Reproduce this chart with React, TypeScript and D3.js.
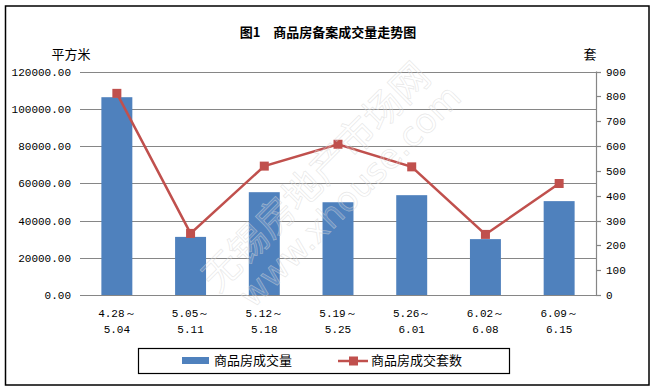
import React, { useEffect, useRef } from "react";
import * as d3 from "d3";

const categories = ["4.28～|5.04", "5.05～|5.11", "5.12～|5.18", "5.19～|5.25", "5.26～|6.01", "6.02～|6.08", "6.09～|6.15"];
const areaValues = [106200, 31200, 55200, 49800, 53600, 30000, 50400];
const unitValues = [812, 248, 519, 607, 516, 244, 449];
const leftTicks = [0, 20000, 40000, 60000, 80000, 100000, 120000];
const rightTicks = [0, 100, 200, 300, 400, 500, 600, 700, 800, 900];

const W = 655;
const H = 390;
const BLUE = "#4F81BD";
const RED = "#C0504D";
const GRID = "#868686";
const CJK = "'Noto Sans CJK SC', sans-serif";
const MONO = "'Liberation Mono', 'DejaVu Sans Mono', monospace";

export default function App() {
    const svgRef = useRef(null);

    useEffect(() => {
        const margin = { top: 71.5, right: 59, bottom: 95, left: 80 };
        const svg = d3.select(svgRef.current);
        svg.selectAll("*").remove();

        const x = d3.scaleBand()
            .domain(categories)
            .range([margin.left, W - margin.right])
            .paddingInner(0.58)
            .paddingOuter(0.29);

        const yLeft = d3.scaleLinear()
            .domain([0, 120000])
            .range([H - margin.bottom, margin.top]);

        const yRight = d3.scaleLinear()
            .domain([0, 900])
            .range([H - margin.bottom, margin.top]);

        // outer frame
        svg.append("rect")
            .attr("x", 5.5).attr("y", 6)
            .attr("width", 643.5).attr("height", 379)
            .attr("fill", "white")
            .attr("stroke", "black")
            .attr("stroke-width", 1.5);

        // title
        svg.append("text")
            .attr("x", 328).attr("y", 37)
            .attr("text-anchor", "middle")
            .style("font-family", CJK)
            .style("font-size", "13px")
            .style("font-weight", "bold")
            .text("图1　商品房备案成交量走势图");

        svg.append("text")
            .attr("x", 71).attr("y", 59)
            .attr("text-anchor", "middle")
            .style("font-family", CJK)
            .style("font-size", "13px")
            .text("平方米");

        svg.append("text")
            .attr("x", 590).attr("y", 59)
            .attr("text-anchor", "middle")
            .style("font-family", CJK)
            .style("font-size", "13px")
            .text("套");

        // gridlines
        svg.append("g")
            .selectAll("line")
            .data(leftTicks)
            .join("line")
            .attr("x1", margin.left)
            .attr("x2", W - margin.right)
            .attr("y1", d => Math.round(yLeft(d)) + 0.5)
            .attr("y2", d => Math.round(yLeft(d)) + 0.5)
            .attr("stroke", GRID)
            .attr("stroke-width", 1.2);

        // left labels
        svg.append("g")
            .selectAll("text")
            .data(leftTicks)
            .join("text")
            .attr("x", 71)
            .attr("y", d => yLeft(d) + 4)
            .attr("text-anchor", "end")
            .style("font-family", MONO)
            .style("font-size", "11px")
            .text(d => d3.format(".2f")(d));

        // right axis
        const rx = W - margin.right;
        svg.append("line")
            .attr("x1", rx + 0.5).attr("x2", rx + 0.5)
            .attr("y1", yRight(900)).attr("y2", yRight(0))
            .attr("stroke", GRID)
            .attr("stroke-width", 1.2);

        svg.append("g")
            .selectAll("line")
            .data(rightTicks)
            .join("line")
            .attr("x1", rx)
            .attr("x2", rx + 5)
            .attr("y1", d => Math.round(yRight(d)) + 0.5)
            .attr("y2", d => Math.round(yRight(d)) + 0.5)
            .attr("stroke", GRID)
            .attr("stroke-width", 1.2);

        svg.append("g")
            .selectAll("text")
            .data(rightTicks)
            .join("text")
            .attr("x", rx + 10)
            .attr("y", d => yRight(d) + 4)
            .style("font-family", MONO)
            .style("font-size", "11px")
            .text(d => d);

        // bars
        svg.append("g")
            .selectAll("rect")
            .data(areaValues)
            .join("rect")
            .attr("x", (d, i) => x(categories[i]))
            .attr("y", d => yLeft(d))
            .attr("width", x.bandwidth())
            .attr("height", d => yLeft(0) - yLeft(d))
            .attr("fill", BLUE);

        // category labels
        const cx = (i) => x(categories[i]) + x.bandwidth() / 2;
        const labels = svg.append("g")
            .selectAll("text")
            .data(categories)
            .join("text")
            .attr("text-anchor", "middle")
            .style("font-family", MONO)
            .style("font-size", "11px");
        labels.append("tspan")
            .attr("x", (d, i) => cx(i))
            .attr("y", 317)
            .text(d => d.split("|")[0]);
        labels.append("tspan")
            .attr("x", (d, i) => cx(i))
            .attr("y", 333)
            .text(d => d.split("|")[1]);

        // line series
        const line = d3.line()
            .x((d, i) => cx(i))
            .y(d => yRight(d));

        svg.append("path")
            .datum(unitValues)
            .attr("d", line)
            .attr("fill", "none")
            .attr("stroke", RED)
            .attr("stroke-width", 2.5);

        svg.append("g")
            .selectAll("rect")
            .data(unitValues)
            .join("rect")
            .attr("x", (d, i) => cx(i) - 4.5)
            .attr("y", d => yRight(d) - 4.5)
            .attr("width", 9)
            .attr("height", 9)
            .attr("fill", RED);

        // watermark
        const wm = svg.append("g")
            .attr("transform", "translate(222,298) rotate(-45)")
            .style("pointer-events", "none");
        wm.append("text")
            .attr("x", 0).attr("y", -6)
            .style("font-family", CJK)
            .style("font-size", "38px")
            .attr("fill", "white")
            .attr("fill-opacity", 0.15)
            .attr("stroke", "#d4d4d4")
            .attr("stroke-opacity", 0.55)
            .attr("stroke-width", 0.7)
            .text("无锡房地产市场网");
        wm.append("text")
            .attr("x", 14).attr("y", 30)
            .style("font-family", "'DejaVu Sans', sans-serif")
            .style("font-size", "34px")
            .attr("fill", "white")
            .attr("fill-opacity", 0.15)
            .attr("stroke", "#d4d4d4")
            .attr("stroke-opacity", 0.55)
            .attr("stroke-width", 0.7)
            .text("www.xhouse.com");

        // legend
        svg.append("rect")
            .attr("x", 138.5).attr("y", 348.5)
            .attr("width", 371).attr("height", 25)
            .attr("fill", "white")
            .attr("stroke", "black")
            .attr("stroke-width", 1.2);

        svg.append("rect")
            .attr("x", 182).attr("y", 357)
            .attr("width", 27).attr("height", 7)
            .attr("fill", BLUE);
        svg.append("text")
            .attr("x", 214).attr("y", 365)
            .style("font-family", CJK)
            .style("font-size", "13px")
            .text("商品房成交量");

        svg.append("line")
            .attr("x1", 338).attr("x2", 368)
            .attr("y1", 361).attr("y2", 361)
            .attr("stroke", RED)
            .attr("stroke-width", 2.5);
        svg.append("rect")
            .attr("x", 349).attr("y", 356.5)
            .attr("width", 9).attr("height", 9)
            .attr("fill", RED);
        svg.append("text")
            .attr("x", 371).attr("y", 365)
            .style("font-family", CJK)
            .style("font-size", "13px")
            .text("商品房成交套数");
    }, []);

    return (
        <svg
            ref={svgRef}
            width={W}
            height={H}
            style={{ position: "absolute", left: 0, top: 0, background: "white" }}
        />
    );
}
